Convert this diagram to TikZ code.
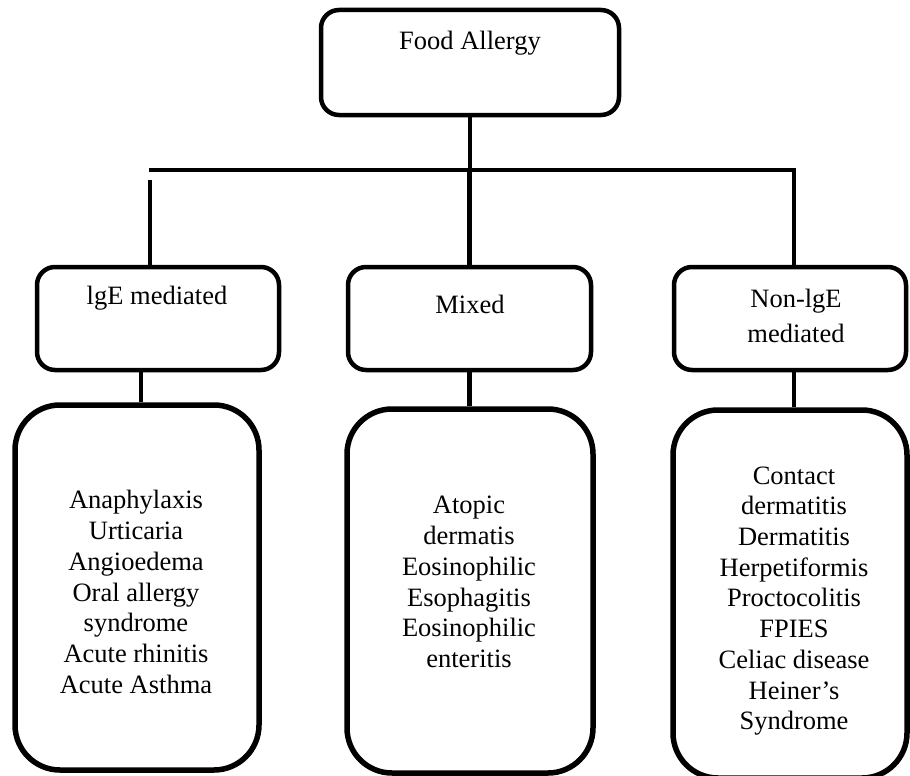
\documentclass[tikz,border=0pt]{standalone}
\usepackage{fontspec}
\setmainfont{Liberation Serif}
\usepackage{tikz}
\usetikzlibrary{positioning}

\begin{document}
\begin{tikzpicture}[x=1pt,y=-1pt,
  every node/.style={font=\fontsize{26.5}{30.7}\selectfont},
  headbox/.style={draw,line width=4.5pt,rounded corners=18pt,inner sep=0pt},
  listbox/.style={draw,line width=5.5pt,rounded corners=45pt,inner sep=0pt},
  txt/.style={align=center,inner sep=0pt},
  link/.style={line width=4.5pt}]
  \useasboundingbox (0,0) rectangle (910,776);
  % root
  \node[headbox,minimum width=298pt,minimum height=105pt] (food) at (470,62.5) {};
  \node[txt] (foodtxt) at (470,43) {Food Allergy};
  % types
  \node[headbox,minimum width=242pt,minimum height=103pt] (ige) at (158,318.5) {};
  \node[headbox,minimum width=243pt,minimum height=103pt] (mixed) at (469.5,318.5) {};
  \node[headbox,minimum width=232pt,minimum height=103pt] (nonige) at (790,318.5) {};
  \node[txt] (igetxt) at (157,298) {lgE mediated};
  \node[txt] (mixedtxt) at (470,304) {Mixed};
  \node[txt] (nonigetxt) at (796,316) {Non-lgE\\[5pt]mediated};
  % disorders
  \node[listbox,minimum width=244pt,minimum height=365pt] (igelist) at (137,587.5) {};
  \node[listbox,minimum width=246pt,minimum height=364pt] (mixedlist) at (470,591) {};
  \node[listbox,minimum width=234pt,minimum height=368pt] (nonigelist) at (790,594) {};
  \node[txt] (igelisttxt) at (136,592) {Anaphylaxis\\Urticaria\\Angioedema\\Oral allergy\\syndrome\\Acute rhinitis\\Acute Asthma};
  \node[txt] (mixedlisttxt) at (469,582) {Atopic\\dermatis\\Eosinophilic\\Esophagitis\\Eosinophilic\\enteritis};
  \node[txt] (nonigelisttxt) at (794,601) {Contact\\dermatitis\\Dermatitis\\Herpetiformis\\Proctocolitis\\FPIES\\Celiac disease\\Heiner’s\\Syndrome};
  % connectors
  \coordinate (barL) at (149,170);
  \coordinate (barR) at (794,170);
  \coordinate (legL) at (150,180);
  \draw[link] (food.south) -- (food.south |- barR);
  \draw[link] (barL) -- (barR) -- (barR |- nonige.north);
  \draw[link,line width=3.5pt] (legL) -- (legL |- ige.north);
  \draw[link] (mixed.north |- barR) -- (mixed.north);
  \draw[link] ([xshift=-17pt]ige.south) -- ([xshift=-17pt]ige.south |- igelist.north);
  \draw[link] (mixed.south) -- (mixed.south |- mixedlist.north);
  \draw[link] ([xshift=4pt]nonige.south) -- ([xshift=4pt]nonige.south |- nonigelist.north);
\end{tikzpicture}
\end{document}
